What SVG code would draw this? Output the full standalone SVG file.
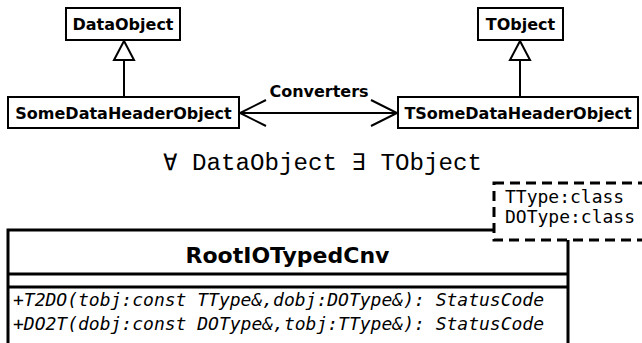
<svg xmlns="http://www.w3.org/2000/svg" width="642" height="343" viewBox="0 0 642 343">
<style>
.box{fill:#fff;stroke:#000;stroke-width:2}
.cls{fill:none;stroke:#000;stroke-width:3}
.lbl{font-family:"DejaVu Sans",sans-serif;font-weight:bold;font-size:16px;fill:#000}
.mono{font-family:"DejaVu Sans Mono",monospace;font-size:18px;fill:#000}
.line{fill:none;stroke:#000;stroke-width:2}
</style>
<defs>
<marker id="open" viewBox="0 0 30 30" refX="27" refY="15" markerWidth="30" markerHeight="30" markerUnits="userSpaceOnUse" orient="auto-start-reverse">
<path d="M1,2 L27,15 L1,28" fill="none" stroke="#000" stroke-width="2"/>
</marker>
</defs>
<g id="DataObject">
<rect class="box" x="66" y="8" width="114" height="32"/>
<text class="lbl" x="123" y="30" text-anchor="middle">DataObject</text>
</g>
<g id="TObject">
<rect class="box" x="478" y="8" width="85" height="32"/>
<text class="lbl" x="520.5" y="30" text-anchor="middle">TObject</text>
</g>
<g id="SomeDataHeaderObject">
<rect class="box" x="8" y="97" width="231" height="31"/>
<text class="lbl" x="123.5" y="119" text-anchor="middle">SomeDataHeaderObject</text>
</g>
<g id="TSomeDataHeaderObject">
<rect class="box" x="398" y="97" width="240" height="31"/>
<text class="lbl" x="518" y="119" text-anchor="middle">TSomeDataHeaderObject</text>
</g>
<g id="connectors">
<path class="line" d="M124,60 V97"/>
<path class="line" d="M124,41 L114,60 H134 Z" fill="#fff"/>
<path class="line" d="M520,60 V97"/>
<path class="line" d="M520,41 L510,60 H530 Z" fill="#fff"/>
<path class="line" d="M240,113 H397" marker-start="url(#open)" marker-end="url(#open)"/>
<text class="lbl" x="319" y="97" text-anchor="middle">Converters</text>
</g>
<text x="163" y="170" textLength="319" lengthAdjust="spacingAndGlyphs" font-family="Liberation Mono, monospace" font-size="23">∀ DataObject ∃ TObject</text>
<g id="RootIOTypedCnv">
<path class="cls" d="M494,230 H8 V343 M568,240 V343 M8,274 H568 M8,287 H568"/>
<text x="287.5" y="263" text-anchor="middle" font-family="DejaVu Sans, sans-serif" font-weight="bold" font-size="22">RootIOTypedCnv</text>
<text class="mono" x="13" y="306" font-style="italic" font-size="18.3">+T2DO(tobj:const TType&amp;,dobj:DOType&amp;): StatusCode</text>
<text class="mono" x="13" y="330" font-style="italic" font-size="18.3">+DO2T(dobj:const DOType&amp;,tobj:TType&amp;): StatusCode</text>
</g>
<g id="template">
<rect x="494" y="183" width="152" height="57" fill="#fff" stroke="#000" stroke-width="3" stroke-dasharray="10,6"/>
<text class="mono" x="505" y="203">TType:class</text>
<text class="mono" x="505" y="223">DOType:class</text>
</g>
</svg>
